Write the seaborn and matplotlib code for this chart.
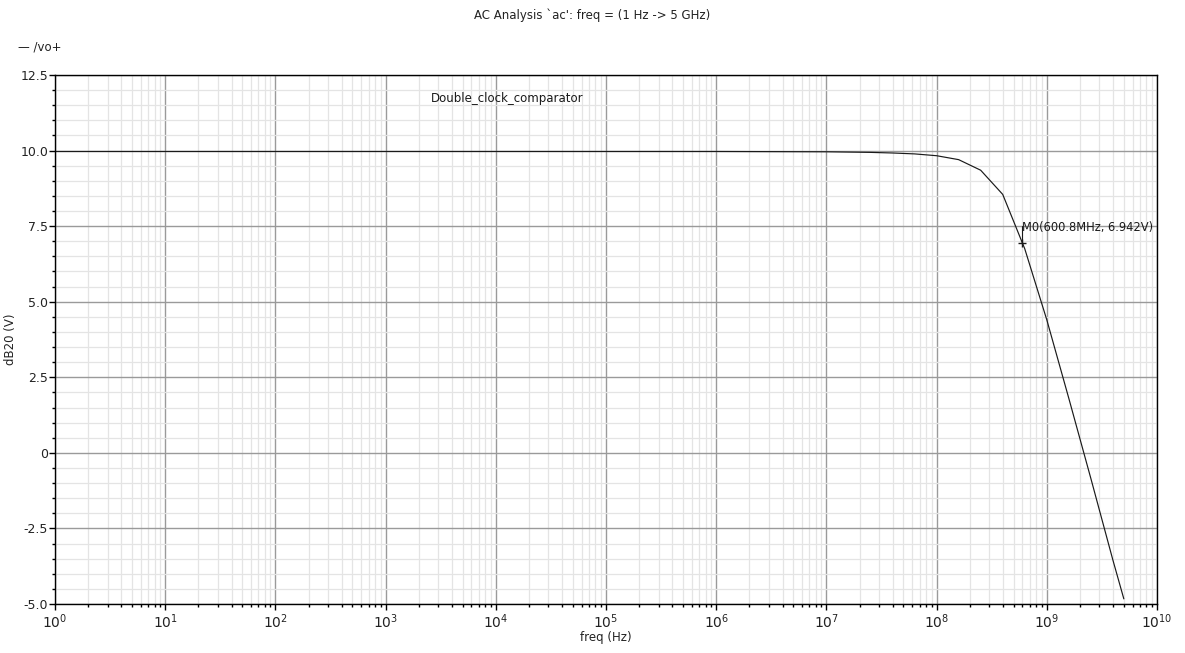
import matplotlib
matplotlib.use("Agg")
import matplotlib.pyplot as plt
import matplotlib.ticker as mticker
import seaborn as sns
import pandas as pd
import numpy as np

# data
freq_exp = [0.0, 1.0, 2.0, 3.0, 4.0, 5.0, 6.0, 7.0, 7.2, 7.4, 7.6, 7.8, 8.0,
            8.2, 8.4, 8.6, 8.8, 9.0, 9.2, 9.4, 9.6, 9.699]
gain_db = [9.97, 9.97, 9.97, 9.97, 9.97, 9.97, 9.97, 9.96, 9.95, 9.94, 9.92, 9.89, 9.83,
           9.70, 9.35, 8.55, 6.75, 4.40, 1.80, -0.85, -3.55, -4.83]
marker_freq = 600.8e6
marker_val = 6.942
x_ticks = [10.0 ** k for k in range(0, 11)]
y_ticks = [-5.0, -2.5, 0.0, 2.5, 5.0, 7.5, 10.0, 12.5]
y_labels = ["-5.0", "-2.5", "0", "2.5", "5.0", "7.5", "10.0", "12.5"]

df = pd.DataFrame({"freq": [10.0 ** e for e in freq_exp], "gain": gain_db})

sns.set_style("ticks")
plt.rcParams["font.family"] = ["DejaVu Sans"]

fig = plt.figure(figsize=(11.85, 6.53), dpi=100)
ax = fig.add_axes([55 / 1185, 1 - 604 / 653, (1157 - 55) / 1185, (604 - 75) / 653])

sns.lineplot(data=df, x="freq", y="gain", ax=ax, color="#1a1a1a", linewidth=0.85)
ax.set_xscale("log")
ax.set_xlim(1, 1e10)
ax.set_ylim(-5, 12.5)

ax.xaxis.set_major_locator(mticker.FixedLocator(x_ticks))
ax.xaxis.set_minor_locator(mticker.LogLocator(base=10, subs=np.arange(2, 10), numticks=100))
ax.xaxis.set_major_formatter(mticker.LogFormatterMathtext())
ax.xaxis.set_minor_formatter(mticker.NullFormatter())
ax.yaxis.set_major_locator(mticker.FixedLocator(y_ticks))
ax.yaxis.set_major_formatter(mticker.FixedFormatter(y_labels))
ax.yaxis.set_minor_locator(mticker.MultipleLocator(0.5))

ax.grid(which="major", color="#9a9a9a", linewidth=1.0)
ax.grid(which="minor", color="#e4e4e4", linewidth=0.9)
ax.set_axisbelow(True)

for s in ax.spines.values():
    s.set_color("black")
    s.set_linewidth(1.0)

ax.tick_params(axis="both", which="both", bottom=True, left=True, top=False, right=False)
ax.tick_params(axis="both", which="major", direction="out", length=4, width=1,
               color="black", labelsize=9, pad=1, labelcolor="#222222")
ax.tick_params(axis="both", which="minor", direction="out", length=2.5, width=1, color="black")
ax.tick_params(axis="x", which="major", labelsize=10, pad=2)

ax.set_xlabel("freq (Hz)", fontsize=8.5, labelpad=0, color="#222222")
ax.set_ylabel("dB20 (V)", fontsize=8.5, color="#222222")
ax.yaxis.set_label_coords(-38 / 1102, 0.5)

# marker
ax.plot([marker_freq], [marker_val], marker="+", color="#1a1a1a", markersize=6, mew=1)
ax.plot([marker_freq, marker_freq], [marker_val, 7.5], color="#1a1a1a", linewidth=0.8)
ax.text(marker_freq * 0.99, 7.44, "M0(600.8MHz, 6.942V)", fontsize=8.3, ha="left",
        va="center", color="#1a1a1a")

ax.text(0.341, 0.9565, "Double_clock_comparator", transform=ax.transAxes, fontsize=8.5,
        ha="left", va="center", color="#1a1a1a")

fig.text(0.5, 1 - 15 / 653, "AC Analysis `ac': freq = (1 Hz -> 5 GHz)", fontsize=8.5,
         ha="center", va="center", color="#222222")
fig.text(18 / 1185, 1 - 47 / 653, "\u2014 /vo+", fontsize=8.5, ha="left", va="center",
         color="#222222")

fig.savefig("out.png", dpi=100)
